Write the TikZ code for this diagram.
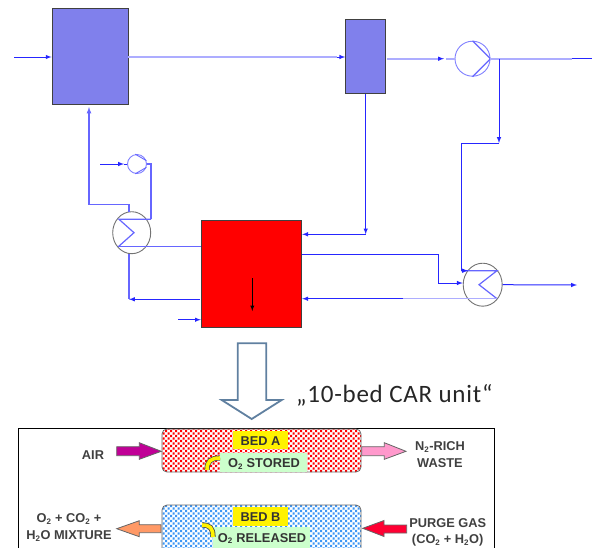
\documentclass[tikz,border=0pt]{standalone}
\usepackage{fontspec}
\setmainfont{Liberation Sans}
\newfontfamily\unitfont[LetterSpace=3]{Carlito}
\usetikzlibrary{calc,patterns,shapes.geometric}
\definecolor{vesselblue}{RGB}{128,128,236}
\definecolor{airpurple}{RGB}{192,0,150}
\definecolor{wastepink}{RGB}{255,153,204}
\definecolor{mixorange}{RGB}{255,153,102}
\definecolor{purgered}{RGB}{255,0,51}
\definecolor{hollowblue}{RGB}{96,128,160}
\definecolor{dotblue}{RGB}{60,150,245}
\definecolor{labelgreen}{RGB}{204,255,204}
\pgfdeclarepatternformonly{beddots}{\pgfqpoint{-1pt}{-1pt}}{\pgfqpoint{6pt}{6pt}}{\pgfqpoint{5pt}{5pt}}{
	\pgfpathrectangle{\pgfqpoint{0pt}{0pt}}{\pgfqpoint{2.1pt}{2.1pt}}
	\pgfpathrectangle{\pgfqpoint{2.5pt}{2.5pt}}{\pgfqpoint{2.1pt}{2.1pt}}
	\pgfusepath{fill}
}
\tikzset{
	vessel/.style={draw=black!75, line width=0.9pt, fill=#1, inner sep=0pt},
	pumpnode/.style={circle, draw=#1, line width=0.9pt, fill=white, inner sep=0pt},
	exchanger/.style={ellipse, draw=black!55, line width=0.9pt, fill=white, inner sep=0pt},
	pipe/.style={color=blue!85!white, line width=1pt, >=latex},
	palepipe/.style={color=blue!32!white, line width=2pt, >=latex},
	midpipe/.style={color=blue!60!white, line width=1.2pt, >=latex},
	bed/.style={rounded corners=5pt, draw=black!60, line width=0.8pt},
	labelbox/.style={inner sep=0pt, font=\bfseries\fontsize{12.8}{14}\selectfont, text=black!80},
	sidetext/.style={align=center, font=\bfseries\fontsize{12.8}{16.7}\selectfont, text=black!75},
	fatarrow/.style={draw=black!60, line width=0.8pt, fill=#1},
	turnarrow/.style={line width=0.8pt, color=black!70, double=yellow, double distance=3.6pt}
}
\def\subtwo{\textsubscript{\fontsize{8}{8}\selectfont 2}}
\begin{document}
\begin{tikzpicture}[x=1pt, y=-1pt]
	%%%%% START %%%%%
	\useasboundingbox (0, 0) rectangle (592, 547);
	\clip (0, 0) rectangle (592, 547);

	\node[vessel=vesselblue, minimum width=76pt, minimum height=96pt] (column) at (90, 56.5) {};
	\node[vessel=vesselblue, minimum width=40pt, minimum height=74pt] (flash) at (365.7, 56.7) {};
	\node[vessel=red, minimum width=100.5pt, minimum height=107pt] (car) at (251.5, 273.5) {};

	\node[pumpnode=blue!50!white, minimum size=35pt] (pumpa) at (472.5, 58.7) {};
	\node[pumpnode=blue!50!white, minimum size=19pt] (pumpb) at (137, 164) {};
	\node[exchanger, minimum width=38pt, minimum height=42pt] (hxa) at (131.7, 232.7) {};
	\node[exchanger, minimum width=39pt, minimum height=43pt] (hxb) at (482.7, 284.7) {};

	\coordinate (feed) at (14, 57);
	\coordinate (aftpump) at (499, 58.7);
	\coordinate (outa) at (592, 58.7);
	\coordinate (outb) at (577, 285);
	\coordinate (vapour) at (461, 143);
	\coordinate (carin) at (178, 319.7);
	\coordinate (airb) at (100, 164);

	% pump and exchanger insides
	\draw[midpipe] (pumpa.north) -- (pumpa.east) -- (pumpa.south);
	\draw[midpipe, line width=0.9pt] (pumpb.100) -- (pumpb.20);
	\draw[midpipe, line width=0.9pt] (pumpb.260) -- (pumpb.340);
	\draw[midpipe] (151, 219.3) -- (119, 219.3) -- (134, 232.7) -- (118.3, 246.7);
	\draw[midpipe] (461, 270.7) -- (497, 270.7) -- (479, 284.7) -- (497, 298.7);

	% upper line
	\draw[pipe, ->] (feed) -- (column.west |- feed);
	\draw[palepipe] (column.east |- feed) -- ($(flash.west |- feed)+(-8, 0)$);
	\draw[pipe, ->] ($(flash.west |- feed)+(-8, 0)$) -- (flash.west |- feed);
	\draw[palepipe] (387, 58.7) -- (441, 58.7);
	\draw[pipe, ->] (439, 58.7) -- (444, 58.7);
	\draw[palepipe] (446, 58.7) -- (pumpa.west);
	\draw[palepipe] (pumpa.east) -- (572, 58.7);
	\draw[pipe] (572, 58.7) -- (outa);

	% branch to second exchanger
	\draw[pipe, ->] (aftpump) -- (aftpump |- vapour);
	\draw[pipe] (aftpump |- vapour) -- (vapour) -- (461, 270.7);
	\draw[pipe, ->] (461, 270.7) -- (468, 270.7);

	% around the red unit
	\draw[pipe, ->] (flash.south) -- (flash.south |- 0, 234.3);
	\draw[pipe, ->] (flash.south |- 0, 234.3) -- (car.east |- 0, 234.3);
	\draw[pipe, ->] (car.east |- 0, 254) -- (438, 254) -- (438, 283) -- (hxb.west |- 0, 283);
	\draw[pipe, ->] (hxb.east) -- (outb);
	\draw[palepipe, line width=1.1pt] (497, 298.7) -- (403, 298.7);
	\draw[pipe, ->] (403, 298.7) -- (car.east |- 0, 298.7);

	% left side
	\draw[midpipe, ->] (89, 204.7) -- (89, 107);
	\draw[midpipe] (129, 212) -- (129, 204.7) -- (89, 204.7);
	\draw[midpipe] (pumpb.east) -- (151, 164) -- (151, 219.3);
	\draw[pipe, ->] (airb) -- (124, 164);
	\draw[pipe] (124, 164) -- (pumpb.west);
	\draw[midpipe] (118.3, 246.7) -- (car.west |- 0, 246.7);
	\draw[midpipe] (129, 254) -- (129, 299.3);
	\draw[pipe, ->] (200, 299.3) -- (129, 299.3);
	\draw[pipe, ->] (carin) -- (car.west |- carin);
	\draw[black, line width=0.9pt, ->, >=latex] (252.3, 278) -- (252.3, 311);

	% hollow arrow
	\draw[color=hollowblue, line width=1.8pt, fill=white]
		(237.7, 343.3) -- (266.3, 343.3) -- (266.3, 400) -- (281.7, 400) -- (251.7, 419) -- (221.7, 400) -- (237.7, 400) -- cycle;
	\node[anchor=base west, inner sep=0pt, font=\unitfont\fontsize{25}{27}\selectfont, text=black!85] (unit) at (296, 402) {„10-bed CAR unit“};

	% lower panel
	\draw[black, line width=1pt] (18.5, 428.5) rectangle (494, 560);

	\fill[rounded corners=5pt, pattern=beddots, pattern color=red] (162, 429) rectangle (361, 472);
	\fill[rounded corners=5pt, pattern=beddots, pattern color=dotblue] (162, 505) rectangle (361, 560);
	\draw[bed] (162, 429) rectangle (361, 472);
	\draw[bed] (162, 505) rectangle (361, 560);

	\fill[yellow] (233, 431) rectangle (288, 449.3);
	\fill[labelgreen] (220, 453) rectangle (307, 471.5);
	\fill[yellow] (233, 507) rectangle (288, 526);
	\fill[labelgreen] (213, 527.3) rectangle (310, 560);

	\node[labelbox] (beda) at (260.5, 441.5) {BED A};
	\node[labelbox] (stored) at (264, 464) {O\subtwo{} STORED};
	\node[labelbox] (bedb) at (260.5, 517) {BED B};
	\node[labelbox] (released) at (262, 538.5) {O\subtwo{} RELEASED};

	\draw[turnarrow] (207, 470) .. controls (207, 461) and (211, 458) .. (220, 458);
	\draw[turnarrow] (202, 525) .. controls (210, 525) and (213, 528) .. (213, 537);

	\draw[fatarrow=airpurple] (116.7, 446.7) -- (139.3, 446.7) -- (139.3, 442.7) -- (161.3, 451.3) -- (139.3, 459.3) -- (139.3, 455.7) -- (116.7, 455.7) -- cycle;
	\draw[fatarrow=wastepink] (361.7, 446.7) -- (384.3, 446.7) -- (384.3, 442.7) -- (406, 451.3) -- (384.3, 459.3) -- (384.3, 455.7) -- (361.7, 455.7) -- cycle;
	\draw[fatarrow=mixorange] (161, 524.7) -- (139.3, 524.7) -- (139.3, 520.7) -- (116.7, 528.7) -- (139.3, 536.7) -- (139.3, 532.7) -- (161, 532.7) -- cycle;
	\draw[fatarrow=purgered] (406.7, 525) -- (384, 525) -- (384, 520.5) -- (362.7, 528.3) -- (384, 536.5) -- (384, 533) -- (406.7, 533) -- cycle;

	\node[sidetext] (air) at (93, 454.7) {AIR};
	\node[sidetext] (waste) at (440, 454.5) {N\subtwo{}-RICH\\WASTE};
	\node[sidetext] (mixture) at (69, 527.5) {O\subtwo{} + CO\subtwo{} +\\H\subtwo{}O MIXTURE};
	\node[sidetext] (purge) at (447.7, 532.5) {PURGE GAS\\(CO\subtwo{} + H\subtwo{}O)};

	%%%%% END %%%%%
\end{tikzpicture}
\end{document}
